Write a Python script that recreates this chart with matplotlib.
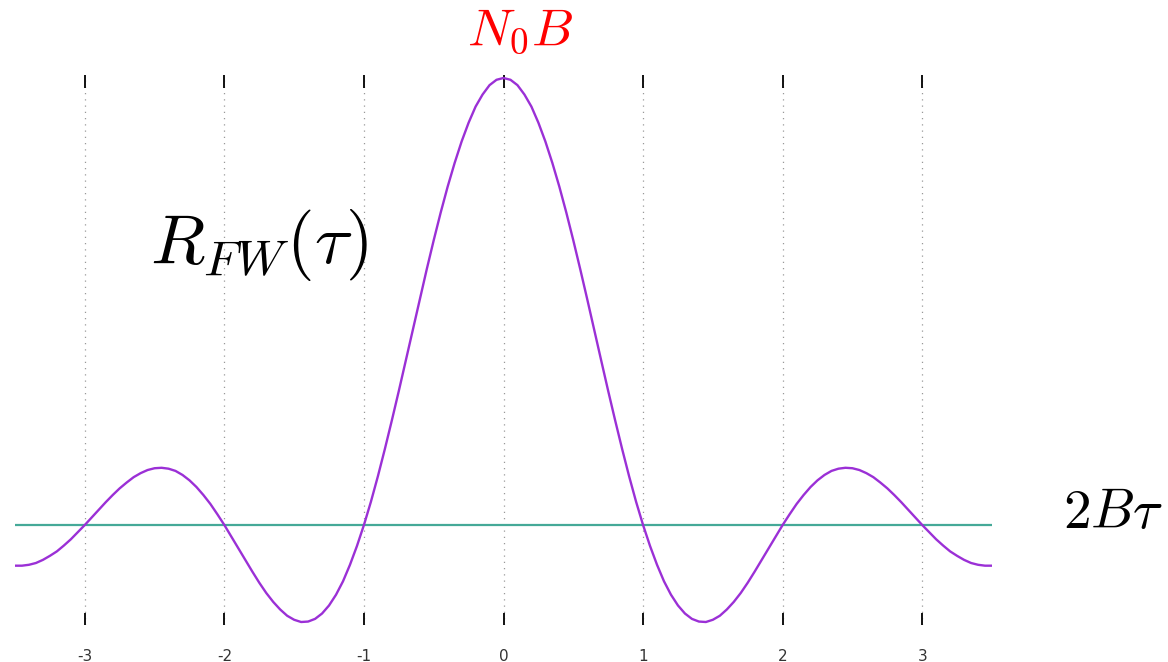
import matplotlib
matplotlib.use("Agg")
from matplotlib import pyplot as plt
import numpy as np

plt.rcParams['mathtext.fontset'] = 'cm'

# 2B*tau sample grid (step 0.05) and the normalised R_FW values read at each sample
tau = np.round(np.arange(-3.5, 3.5001, 0.05), 2)
r_fw = [-0.091, -0.091, -0.089, -0.085, -0.078, -0.069, -0.059, -0.046, -0.032, -0.016,
        0.0, 0.017, 0.034, 0.051, 0.067, 0.082, 0.095, 0.107, 0.116, 0.123,
        0.127, 0.128, 0.126, 0.121, 0.112, 0.100, 0.085, 0.067, 0.047, 0.024,
        0.0, -0.026, -0.052, -0.078, -0.104, -0.129, -0.152, -0.172, -0.189, -0.203,
        -0.212, -0.217, -0.216, -0.210, -0.198, -0.180, -0.156, -0.126, -0.089, -0.047,
        0.0, 0.052, 0.109, 0.170, 0.234, 0.300, 0.368, 0.436, 0.505, 0.572,
        0.637, 0.699, 0.757, 0.810, 0.858, 0.900, 0.936, 0.963, 0.984, 0.996,
        1.0,
        0.996, 0.984, 0.963, 0.936, 0.900, 0.858, 0.810, 0.757, 0.699, 0.637,
        0.572, 0.505, 0.436, 0.368, 0.300, 0.234, 0.170, 0.109, 0.052, 0.0,
        -0.047, -0.089, -0.126, -0.156, -0.180, -0.198, -0.210, -0.216, -0.217, -0.212,
        -0.203, -0.189, -0.172, -0.152, -0.129, -0.104, -0.078, -0.052, -0.026, 0.0,
        0.024, 0.047, 0.067, 0.085, 0.100, 0.112, 0.121, 0.126, 0.128, 0.127,
        0.123, 0.116, 0.107, 0.095, 0.082, 0.067, 0.051, 0.034, 0.017, 0.0,
        -0.016, -0.032, -0.046, -0.059, -0.069, -0.078, -0.085, -0.089, -0.091, -0.091]
xticks = [-3, -2, -1, 0, 1, 2, 3]

fig = plt.figure(figsize=(11.68, 6.62), dpi=100)
ax = fig.add_axes([15 / 1168, 37 / 662, 977 / 1168, 550 / 662])

ax.axhline(0, color='#45a998', lw=1.6, zorder=2)
ax.plot(tau, r_fw, color='#9b30d6', lw=1.7, zorder=3)

ax.set_xlim(-3.5, 3.5)
ax.set_ylim(-0.2237, 1.0067)
ax.set_xticks(xticks)
ax.set_xticklabels([str(t) for t in xticks], fontsize=11, color='#333333')
ax.set_yticks([])
ax.tick_params(axis='x', direction='in', top=True, bottom=True, length=9, width=1.4,
               color='#111111', pad=17)
ax.grid(axis='x', color='#999999', linestyle=(0, (1, 4)), lw=0.9)
for s in ax.spines.values():
    s.set_visible(False)

fig.text(520 / 1168, 1 - 30 / 662, r'$N_0B$', color='red', fontsize=38,
         ha='center', va='center')
fig.text(150 / 1168, 1 - 245 / 662, r'$R_{FW}(\tau)$', color='black', fontsize=51,
         ha='left', va='center')
fig.text(1063 / 1168, 1 - 513 / 662, r'$2B\tau$', color='black', fontsize=40,
         ha='left', va='center')

fig.savefig('out.png', dpi=100)
